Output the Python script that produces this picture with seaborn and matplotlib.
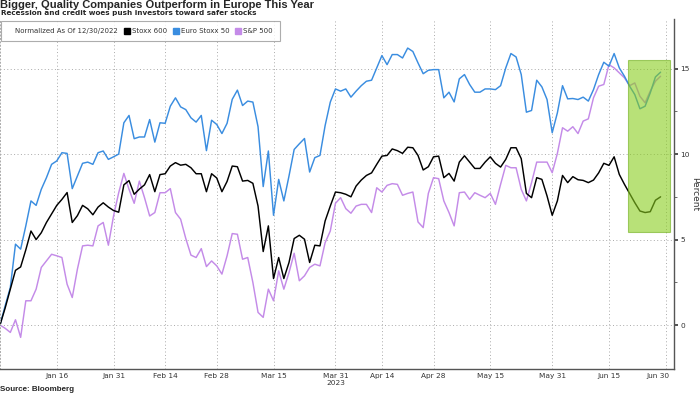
import numpy as np
import pandas as pd
import seaborn as sns
import matplotlib.pyplot as plt
from matplotlib.lines import Line2D
from matplotlib.patches import Rectangle
from matplotlib.ticker import FixedLocator
from matplotlib.transforms import ScaledTranslation

# Percent change since 12/30/2022, one value per trading day
stoxx600 = [
    0, 1.0, 2.1, 3.2, 3.4, 4.4, 5.5, 5.0, 5.4, 6.0,
    6.5, 7.0, 7.35, 7.75, 6.0, 6.4, 7.0, 6.8, 6.45, 6.9,
    7.15, 6.9, 6.7, 6.6, 8.2, 8.45, 7.65, 7.95, 8.2, 8.8,
    7.8, 8.8, 8.85, 9.3, 9.5, 9.35, 9.4, 9.2, 8.85, 8.85,
    7.8, 8.85, 8.6, 7.8, 8.4, 9.3, 9.26, 8.42, 8.46, 8.29,
    6.96, 4.3, 5.8, 2.72, 3.95, 2.72, 3.66, 5.06, 5.25, 5.02,
    3.66, 4.67, 4.63, 6.09, 6.96, 7.78, 7.74, 7.65, 7.5, 8.13,
    8.48, 8.75, 8.9, 9.4, 9.88, 9.92, 10.3, 10.2, 10.04, 10.4,
    10.37, 9.92, 9.07, 9.26, 9.84, 9.88, 8.62, 8.87, 8.42, 9.53,
    9.9, 9.53, 9.16, 9.16, 9.53, 9.84, 9.46, 9.24, 9.69, 10.37,
    10.37, 9.73, 7.7, 7.45, 8.62, 8.52, 7.55, 6.42, 7.26, 8.75,
    8.33, 8.68, 8.5, 8.46, 8.33, 8.48, 8.9, 9.46, 9.34, 9.84,
    8.81, 8.23, 7.7, 7.16, 6.67, 6.58, 6.63, 7.3, 7.5,
]
eurostoxx50 = [
    0, 1.13, 2.2, 4.73, 4.44, 5.8, 7.26, 7.0, 7.94, 8.62,
    9.4, 9.6, 10.08, 10.04, 7.98, 8.72, 9.46, 9.53, 9.4, 10.08,
    10.18, 9.69, 9.84, 10.0, 11.83, 12.26, 10.9, 11.0, 11.0, 12.02,
    10.7, 11.83, 11.8, 12.8, 13.29, 12.76, 12.6, 12.12, 11.87, 12.26,
    10.2, 11.98, 11.73, 11.2, 11.8, 13.2, 13.74, 12.84, 13.1, 13.04,
    11.6, 8.1, 10.18, 6.42, 8.52, 7.26, 8.72, 10.27, 10.6, 10.91,
    8.95, 9.79, 9.92, 11.67, 13.04, 13.81, 13.68, 13.81, 13.33, 13.68,
    14.0, 14.26, 14.32, 15.04, 15.76, 15.23, 15.82, 15.82, 15.62, 16.2,
    16.0, 15.33, 14.7, 14.9, 14.94, 14.94, 13.29, 13.62, 13.05, 14.4,
    14.65, 14.07, 13.62, 13.62, 13.81, 13.81, 13.77, 14.0, 15.04, 15.88,
    15.68, 14.65, 12.45, 12.55, 14.32, 13.93, 13.19, 11.25, 12.41, 14.0,
    13.23, 13.25, 13.19, 13.33, 13.1, 13.77, 14.65, 15.37, 15.14, 15.88,
    15.04, 14.55, 13.97, 13.48, 12.65, 12.8, 13.58, 14.51, 14.79,
]
sp500 = [
    0, -0.19, -0.43, 0.31, -0.72, 1.42, 1.42, 2.1, 3.37, 3.75,
    4.14, 4.05, 3.95, 2.39, 1.61, 3.27, 4.63, 4.67, 4.63, 5.8,
    6.0, 4.67, 6.38, 7.74, 8.87, 7.94, 7.12, 8.42, 7.45, 6.38,
    6.58, 7.74, 7.74, 7.98, 6.58, 6.19, 5.06, 4.09, 3.95, 4.47,
    3.42, 3.75, 3.46, 2.98, 4.05, 5.35, 5.31, 3.85, 3.95, 2.49,
    0.74, 0.45, 2.1, 1.42, 3.17, 2.1, 3.07, 4.2, 2.59, 2.88,
    3.37, 3.56, 3.46, 4.82, 5.5, 7.12, 7.45, 6.81, 6.54, 6.96,
    7.06, 7.06, 6.58, 8.03, 7.78, 8.17, 8.27, 8.23, 7.59, 7.7,
    7.78, 6.03, 5.7, 7.7, 8.62, 8.56, 7.26, 6.58, 5.8, 7.74,
    7.78, 7.35, 7.74, 7.59, 7.45, 7.7, 7.06, 8.23, 9.34, 9.2,
    9.2, 7.94, 7.26, 8.33, 9.53, 9.53, 9.53, 8.91, 10.04, 11.54,
    11.34, 11.6, 11.2, 11.93, 12.06, 13.29, 13.97, 14.07, 15.23, 15.04,
    14.75, 14.46, 14.0, 14.16, 13.38, 13.0, 13.68, 14.26, 14.55,
]

series_names = ['Stoxx 600', 'Euro Stoxx 50', 'S&P 500']
colors = ['#000000', '#3a8de0', '#c48be8']

tick_dates = ['2023-01-16', '2023-01-31', '2023-02-14', '2023-02-28', '2023-03-15',
              '2023-03-31', '2023-04-14', '2023-04-28', '2023-05-15', '2023-05-31',
              '2023-06-15', '2023-06-30']
tick_labels = ['Jan 16', 'Jan 31', 'Feb 14', 'Feb 28', 'Mar 15', 'Mar 31\n2023',
               'Apr 14', 'Apr 28', 'May 15', 'May 31', 'Jun 15', 'Jun 30']

# trading-day axis (Good Friday closed)
dates = pd.bdate_range('2022-12-30', '2023-06-30')
dates = dates[dates != pd.Timestamp('2023-04-07')]

n = len(stoxx600)
df = pd.DataFrame({'pos': np.arange(n),
                   'Stoxx 600': stoxx600,
                   'Euro Stoxx 50': eurostoxx50,
                   'S&P 500': sp500})
df = df.melt(id_vars='pos', var_name='index', value_name='pct')

sns.set_style('white')
plt.rcParams['font.family'] = ['DejaVu Sans']

fig = plt.figure(figsize=(7, 3.94), dpi=100)
ax = fig.add_axes([0 / 700, 25 / 394, 674 / 700, 350 / 394])

sns.lineplot(data=df, x='pos', y='pct', hue='index', hue_order=series_names[::-1],
             palette=dict(zip(series_names, colors)), linewidth=1.05,
             legend=False, ax=ax)

ax.set_xlim(0, 130.6)
ax.set_ylim(-2.57, 17.9)
ax.set_xlabel('')

# x ticks at trading-day positions of the label dates
tick_pos = [dates.get_loc(pd.Timestamp(d)) for d in tick_dates]
ax.set_xticks(tick_pos)
ax.set_xticklabels(tick_labels)
mids = [0.5 * (a + b) for a, b in zip([0] + tick_pos[:-1], tick_pos)]
ax.xaxis.set_minor_locator(FixedLocator(mids))
ax.tick_params(axis='x', which='major', length=0, labelsize=5.3, pad=3, colors='#333333')
ax.tick_params(axis='x', which='minor', length=2.5, width=0.6, color='#555555')
last = ax.get_xticklabels()[-1]
last.set_transform(last.get_transform() + ScaledTranslation(-8 / 100, 0, fig.dpi_scale_trans))

# y axis on the right
ax.yaxis.tick_right()
ax.yaxis.set_label_position('right')
ax.set_yticks([0, 5, 10, 15])
ax.yaxis.set_minor_locator(FixedLocator([2.5, 7.5, 12.5]))
ax.tick_params(axis='y', which='major', length=3, width=1.2, labelsize=5.3, pad=1.5,
               colors='#333333')
ax.tick_params(axis='y', which='minor', length=2, width=0.6, color='#555555')
ax.set_ylabel('Percent', rotation=-90, fontsize=6.5, labelpad=7, color='#333333')

ax.grid(True, which='major', axis='both', linestyle=(0, (1, 2.5)), color='#aaaaaa',
        linewidth=0.7)
ax.spines['top'].set_visible(False)
ax.spines['left'].set_linestyle((0, (1, 2.5)))
ax.spines['left'].set_color('#aaaaaa')
ax.spines['left'].set_linewidth(0.7)
for s in ['bottom', 'right']:
    ax.spines[s].set_color('#555555')
    ax.spines[s].set_linewidth(1.0)

# highlighted recent period
ax.add_patch(Rectangle((121.7, 5.45), 8.1, 10.05, facecolor='#8acd1e', alpha=0.6,
                       edgecolor='#6fae1a', linewidth=0.8, zorder=5))

# legend
handles = [Line2D([], [], linestyle='none')] + [
    Line2D([], [], marker='s', linestyle='none', color=c, markersize=4.5) for c in colors]
labels = ['Normalized As Of 12/30/2022'] + series_names
leg = ax.legend(handles, labels, loc='upper left', bbox_to_anchor=(1 / 674, 1 - 2 / 350),
                ncol=4, fontsize=5.0, frameon=True, fancybox=False, edgecolor='#999999',
                handlelength=0.6, handletextpad=0.4, columnspacing=1.0, borderpad=1.0,
                borderaxespad=0)
leg.get_frame().set_linewidth(0.8)
for t in leg.get_texts():
    t.set_color('#333333')

fig.text(0.0, 1 - 8 / 394, 'Bigger, Quality Companies Outperform in Europe This Year',
         fontsize=8.0, fontweight='bold', va='baseline', family=['Liberation Sans'])
fig.text(0.002, 1 - 15 / 394, 'Recession and credit woes push investors toward safer stocks',
         fontsize=5.2, fontweight='bold', va='baseline')
fig.text(0.0, 1 - 386 / 394, 'Source: Bloomberg', fontsize=5.8, fontweight='bold',
         va='top', family=['Liberation Sans'])

fig.savefig('out.png', dpi=100)
